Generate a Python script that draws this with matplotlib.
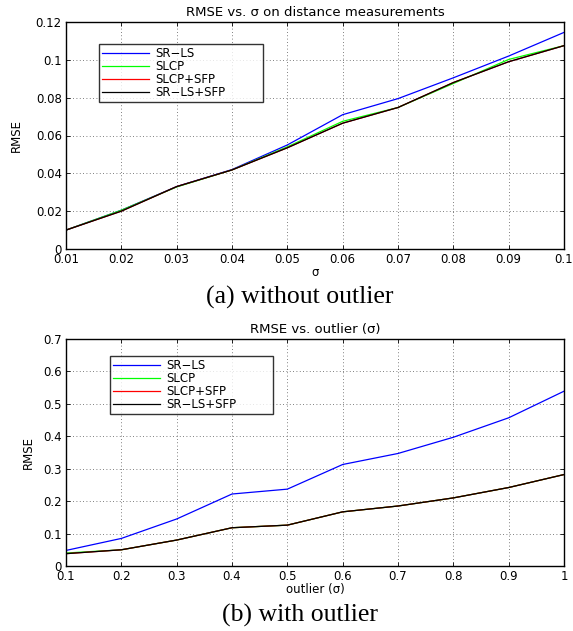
import matplotlib
matplotlib.use("Agg")
import matplotlib.pyplot as plt
import numpy as np

plt.rcParams['font.family'] = ['DejaVu Sans']

# Top chart data
sigma = [0.01, 0.02, 0.03, 0.04, 0.05, 0.06, 0.07, 0.08, 0.09, 0.1]
top_srls = [0.010, 0.0205, 0.033, 0.042, 0.055, 0.071, 0.0795, 0.0905, 0.102, 0.1145]
top_slcp = [0.010, 0.0205, 0.0328, 0.0418, 0.054, 0.0675, 0.0748, 0.0875, 0.1002, 0.1075]
top_slcp_sfp = [0.010, 0.0200, 0.0330, 0.0418, 0.0535, 0.0665, 0.0748, 0.0880, 0.0990, 0.1075]
top_srls_sfp = [0.010, 0.0200, 0.0330, 0.0418, 0.0535, 0.0665, 0.0748, 0.0880, 0.0990, 0.1075]

# Bottom chart data
outlier = [0.1, 0.2, 0.3, 0.4, 0.5, 0.6, 0.7, 0.8, 0.9, 1.0]
bot_srls = [0.048, 0.085, 0.145, 0.222, 0.237, 0.313, 0.347, 0.397, 0.457, 0.539]
bot_slcp = [0.040, 0.050, 0.080, 0.118, 0.126, 0.167, 0.185, 0.210, 0.242, 0.282]
bot_slcp_sfp = [0.038, 0.050, 0.080, 0.118, 0.126, 0.167, 0.185, 0.210, 0.242, 0.282]
bot_srls_sfp = [0.038, 0.050, 0.080, 0.118, 0.126, 0.167, 0.185, 0.210, 0.242, 0.282]

labels = ['SR\u2212LS', 'SLCP', 'SLCP+SFP', 'SR\u2212LS+SFP']
colors = ['#0000ff', '#00ff00', '#ff0000', '#000000']

W, H = 573, 631
fig = plt.figure(figsize=(W / 100, H / 100), dpi=100)
FS = 8.5
TFS = 9.5
LFS = 8.5

def add_axes(l, t, r, b):
    return fig.add_axes([l / W, 1 - b / H, (r - l) / W, (b - t) / H])

def style(ax, xticks, yticks, xlabels, ylabels, title, xlabel, ylabelpad):
    ax.set_xticks(xticks)
    ax.set_xticklabels(xlabels)
    ax.set_yticks(yticks)
    ax.set_yticklabels(ylabels)
    ax.tick_params(direction='in', length=3, labelsize=FS, width=0.6)
    ax.tick_params(axis='x', pad=3)
    ax.tick_params(axis='y', pad=3)
    ax.tick_params(top=True, right=True)
    ax.grid(True, linestyle=(0, (1, 3)), color='#555555', linewidth=0.6)
    for s in ax.spines.values():
        s.set_linewidth(1.0)
    ax.set_title(title, fontsize=TFS, pad=4)
    ax.set_xlabel(xlabel, fontsize=FS, labelpad=0)
    ax.set_ylabel('RMSE', fontsize=FS, labelpad=ylabelpad)

def legend(ax, left_px, top_px, right_px, ax_l, ax_t, ax_w, ax_h):
    x0 = (left_px - ax_l) / ax_w
    w = (right_px - left_px) / ax_w
    y1 = 1 - (top_px - ax_t) / ax_h
    leg = ax.legend(loc='upper left', bbox_to_anchor=(x0, y1 - 0.3, w, 0.3),
                    mode='expand', borderaxespad=0, fontsize=LFS, frameon=True,
                    fancybox=False, edgecolor='black', handlelength=4.0,
                    borderpad=0.25, labelspacing=0.0, handletextpad=0.5)
    leg.get_frame().set_linewidth(1.0)
    return leg

ax1 = add_axes(66, 22, 564, 249)
series1 = [top_srls, top_slcp, top_slcp_sfp, top_srls_sfp]
for y, c, lab in zip(series1, colors, labels):
    ax1.plot(sigma, y, color=c, lw=0.9, label=lab)
ax1.set_xlim(0.01, 0.1)
ax1.set_ylim(0, 0.12)
style(ax1, sigma, [0, 0.02, 0.04, 0.06, 0.08, 0.1, 0.12],
      ['0.01', '0.02', '0.03', '0.04', '0.05', '0.06', '0.07', '0.08', '0.09', '0.1'],
      ['0', '0.02', '0.04', '0.06', '0.08', '0.1', '0.12'],
      'RMSE vs. \u03c3 on distance measurements', '\u03c3', 9)
legend(ax1, 99, 44, 263, 66, 22, 498, 227)

ax2 = add_axes(66, 339, 564, 566)
series2 = [bot_srls, bot_slcp, bot_slcp_sfp, bot_srls_sfp]
for y, c, lab in zip(series2, colors, labels):
    ax2.plot(outlier, y, color=c, lw=0.9, label=lab)
ax2.set_xlim(0.1, 1.0)
ax2.set_ylim(0, 0.7)
style(ax2, outlier, [0, 0.1, 0.2, 0.3, 0.4, 0.5, 0.6, 0.7],
      ['0.1', '0.2', '0.3', '0.4', '0.5', '0.6', '0.7', '0.8', '0.9', '1'],
      ['0', '0.1', '0.2', '0.3', '0.4', '0.5', '0.6', '0.7'],
      'RMSE vs. outlier (\u03c3)', 'outlier (\u03c3)', 6)
legend(ax2, 110, 356, 273, 66, 339, 498, 227)

fig.text(300 / W, 1 - 297 / H, '(a) without outlier', ha='center', va='center',
         fontsize=18.5, family='Liberation Serif')
fig.text(300 / W, 1 - 615 / H, '(b) with outlier', ha='center', va='center',
         fontsize=18.5, family='Liberation Serif')

fig.savefig('out.png', dpi=100)
